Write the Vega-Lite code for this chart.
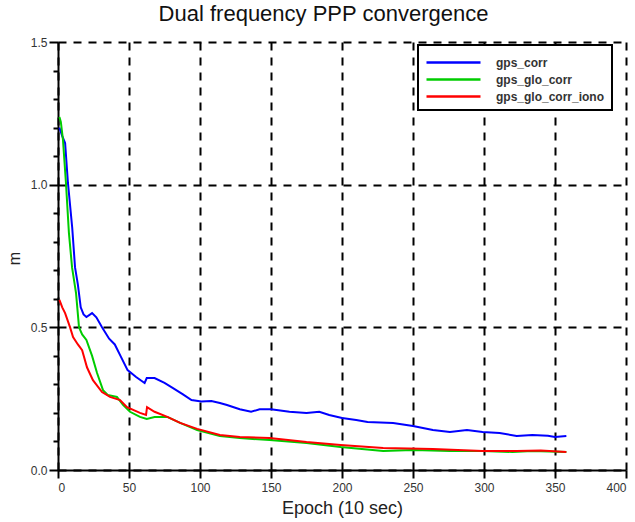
{
  "$schema": "https://vega.github.io/schema/vega-lite/v6.json",
  "width": 568,
  "height": 428,
  "autosize": "none",
  "padding": {"left": 58, "top": 42, "right": 9, "bottom": 52},
  "background": "white",
  "title": {"text": "Dual frequency PPP convergence", "fontSize": 22, "fontWeight": "normal", "color": "#111", "anchor": "middle", "frame": "bounds", "offset": 10, "dx": 7, "font": "Liberation Sans"},
  "data": {"values": [
    {"epoch": 1, "m": 1.20, "series": "gps_corr"},
    {"epoch": 3, "m": 1.17, "series": "gps_corr"},
    {"epoch": 5, "m": 1.146, "series": "gps_corr"},
    {"epoch": 7, "m": 1.006, "series": "gps_corr"},
    {"epoch": 10, "m": 0.85, "series": "gps_corr"},
    {"epoch": 12, "m": 0.71, "series": "gps_corr"},
    {"epoch": 14, "m": 0.65, "series": "gps_corr"},
    {"epoch": 16, "m": 0.57, "series": "gps_corr"},
    {"epoch": 18, "m": 0.545, "series": "gps_corr"},
    {"epoch": 20, "m": 0.536, "series": "gps_corr"},
    {"epoch": 24, "m": 0.55, "series": "gps_corr"},
    {"epoch": 27, "m": 0.535, "series": "gps_corr"},
    {"epoch": 31, "m": 0.50, "series": "gps_corr"},
    {"epoch": 36, "m": 0.46, "series": "gps_corr"},
    {"epoch": 40, "m": 0.44, "series": "gps_corr"},
    {"epoch": 44, "m": 0.40, "series": "gps_corr"},
    {"epoch": 49, "m": 0.35, "series": "gps_corr"},
    {"epoch": 55, "m": 0.326, "series": "gps_corr"},
    {"epoch": 61, "m": 0.305, "series": "gps_corr"},
    {"epoch": 62.5, "m": 0.322, "series": "gps_corr"},
    {"epoch": 68, "m": 0.322, "series": "gps_corr"},
    {"epoch": 75, "m": 0.305, "series": "gps_corr"},
    {"epoch": 81, "m": 0.287, "series": "gps_corr"},
    {"epoch": 88, "m": 0.265, "series": "gps_corr"},
    {"epoch": 94, "m": 0.245, "series": "gps_corr"},
    {"epoch": 101, "m": 0.24, "series": "gps_corr"},
    {"epoch": 108, "m": 0.242, "series": "gps_corr"},
    {"epoch": 114, "m": 0.235, "series": "gps_corr"},
    {"epoch": 119, "m": 0.228, "series": "gps_corr"},
    {"epoch": 128, "m": 0.213, "series": "gps_corr"},
    {"epoch": 136, "m": 0.204, "series": "gps_corr"},
    {"epoch": 142, "m": 0.213, "series": "gps_corr"},
    {"epoch": 150, "m": 0.213, "series": "gps_corr"},
    {"epoch": 163, "m": 0.204, "series": "gps_corr"},
    {"epoch": 175, "m": 0.20, "series": "gps_corr"},
    {"epoch": 184, "m": 0.204, "series": "gps_corr"},
    {"epoch": 191, "m": 0.193, "series": "gps_corr"},
    {"epoch": 200, "m": 0.182, "series": "gps_corr"},
    {"epoch": 210, "m": 0.175, "series": "gps_corr"},
    {"epoch": 218, "m": 0.168, "series": "gps_corr"},
    {"epoch": 236, "m": 0.165, "series": "gps_corr"},
    {"epoch": 250, "m": 0.154, "series": "gps_corr"},
    {"epoch": 257, "m": 0.147, "series": "gps_corr"},
    {"epoch": 264, "m": 0.14, "series": "gps_corr"},
    {"epoch": 276, "m": 0.133, "series": "gps_corr"},
    {"epoch": 288, "m": 0.14, "series": "gps_corr"},
    {"epoch": 299, "m": 0.133, "series": "gps_corr"},
    {"epoch": 311, "m": 0.13, "series": "gps_corr"},
    {"epoch": 323, "m": 0.119, "series": "gps_corr"},
    {"epoch": 334, "m": 0.123, "series": "gps_corr"},
    {"epoch": 345, "m": 0.12, "series": "gps_corr"},
    {"epoch": 350, "m": 0.116, "series": "gps_corr"},
    {"epoch": 358, "m": 0.119, "series": "gps_corr"},

    {"epoch": 1, "m": 1.237, "series": "gps_glo_corr"},
    {"epoch": 2, "m": 1.22, "series": "gps_glo_corr"},
    {"epoch": 3.5, "m": 1.157, "series": "gps_glo_corr"},
    {"epoch": 5.6, "m": 1.006, "series": "gps_glo_corr"},
    {"epoch": 7.7, "m": 0.83, "series": "gps_glo_corr"},
    {"epoch": 9.9, "m": 0.71, "series": "gps_glo_corr"},
    {"epoch": 12.7, "m": 0.62, "series": "gps_glo_corr"},
    {"epoch": 14.8, "m": 0.50, "series": "gps_glo_corr"},
    {"epoch": 17, "m": 0.475, "series": "gps_glo_corr"},
    {"epoch": 20, "m": 0.456, "series": "gps_glo_corr"},
    {"epoch": 24, "m": 0.40, "series": "gps_glo_corr"},
    {"epoch": 27.5, "m": 0.34, "series": "gps_glo_corr"},
    {"epoch": 31.7, "m": 0.28, "series": "gps_glo_corr"},
    {"epoch": 35, "m": 0.263, "series": "gps_glo_corr"},
    {"epoch": 41.5, "m": 0.256, "series": "gps_glo_corr"},
    {"epoch": 45.8, "m": 0.228, "series": "gps_glo_corr"},
    {"epoch": 50.7, "m": 0.204, "series": "gps_glo_corr"},
    {"epoch": 57.7, "m": 0.186, "series": "gps_glo_corr"},
    {"epoch": 62.5, "m": 0.179, "series": "gps_glo_corr"},
    {"epoch": 68, "m": 0.186, "series": "gps_glo_corr"},
    {"epoch": 77, "m": 0.186, "series": "gps_glo_corr"},
    {"epoch": 86, "m": 0.165, "series": "gps_glo_corr"},
    {"epoch": 98, "m": 0.14, "series": "gps_glo_corr"},
    {"epoch": 114, "m": 0.119, "series": "gps_glo_corr"},
    {"epoch": 128, "m": 0.112, "series": "gps_glo_corr"},
    {"epoch": 149, "m": 0.105, "series": "gps_glo_corr"},
    {"epoch": 175, "m": 0.095, "series": "gps_glo_corr"},
    {"epoch": 199, "m": 0.081, "series": "gps_glo_corr"},
    {"epoch": 229, "m": 0.067, "series": "gps_glo_corr"},
    {"epoch": 250, "m": 0.07, "series": "gps_glo_corr"},
    {"epoch": 276, "m": 0.067, "series": "gps_glo_corr"},
    {"epoch": 299, "m": 0.067, "series": "gps_glo_corr"},
    {"epoch": 320, "m": 0.063, "series": "gps_glo_corr"},
    {"epoch": 334, "m": 0.067, "series": "gps_glo_corr"},
    {"epoch": 358, "m": 0.063, "series": "gps_glo_corr"},

    {"epoch": 1, "m": 0.596, "series": "gps_glo_corr_iono"},
    {"epoch": 3, "m": 0.57, "series": "gps_glo_corr_iono"},
    {"epoch": 5, "m": 0.55, "series": "gps_glo_corr_iono"},
    {"epoch": 8.5, "m": 0.50, "series": "gps_glo_corr_iono"},
    {"epoch": 10.6, "m": 0.466, "series": "gps_glo_corr_iono"},
    {"epoch": 14, "m": 0.44, "series": "gps_glo_corr_iono"},
    {"epoch": 17, "m": 0.42, "series": "gps_glo_corr_iono"},
    {"epoch": 20.4, "m": 0.36, "series": "gps_glo_corr_iono"},
    {"epoch": 24.6, "m": 0.315, "series": "gps_glo_corr_iono"},
    {"epoch": 31, "m": 0.273, "series": "gps_glo_corr_iono"},
    {"epoch": 36.6, "m": 0.256, "series": "gps_glo_corr_iono"},
    {"epoch": 43.7, "m": 0.245, "series": "gps_glo_corr_iono"},
    {"epoch": 48.6, "m": 0.22, "series": "gps_glo_corr_iono"},
    {"epoch": 57.7, "m": 0.20, "series": "gps_glo_corr_iono"},
    {"epoch": 62, "m": 0.193, "series": "gps_glo_corr_iono"},
    {"epoch": 62.7, "m": 0.22, "series": "gps_glo_corr_iono"},
    {"epoch": 68, "m": 0.204, "series": "gps_glo_corr_iono"},
    {"epoch": 77, "m": 0.186, "series": "gps_glo_corr_iono"},
    {"epoch": 86, "m": 0.165, "series": "gps_glo_corr_iono"},
    {"epoch": 98, "m": 0.144, "series": "gps_glo_corr_iono"},
    {"epoch": 114, "m": 0.123, "series": "gps_glo_corr_iono"},
    {"epoch": 128, "m": 0.116, "series": "gps_glo_corr_iono"},
    {"epoch": 149, "m": 0.112, "series": "gps_glo_corr_iono"},
    {"epoch": 175, "m": 0.098, "series": "gps_glo_corr_iono"},
    {"epoch": 199, "m": 0.088, "series": "gps_glo_corr_iono"},
    {"epoch": 229, "m": 0.077, "series": "gps_glo_corr_iono"},
    {"epoch": 264, "m": 0.074, "series": "gps_glo_corr_iono"},
    {"epoch": 299, "m": 0.067, "series": "gps_glo_corr_iono"},
    {"epoch": 323, "m": 0.067, "series": "gps_glo_corr_iono"},
    {"epoch": 340, "m": 0.068, "series": "gps_glo_corr_iono"},
    {"epoch": 358, "m": 0.063, "series": "gps_glo_corr_iono"}
  ]},
  "mark": {"type": "line", "strokeWidth": 2},
  "encoding": {
    "x": {
      "field": "epoch", "type": "quantitative",
      "scale": {"domain": [0, 400], "nice": false, "zero": false},
      "axis": {
        "title": "Epoch (10 sec)",
        "values": [0, 50, 100, 150, 200, 250, 300, 350, 400],
        "tickSize": 8,
        "labelPadding": 4,
        "titleFontSize": 18,
        "titlePadding": 6
      }
    },
    "y": {
      "field": "m", "type": "quantitative",
      "scale": {"domain": [0, 1.5], "nice": false},
      "axis": {
        "title": "m",
        "titleX": -44,
        "titleY": 216,
        "titleAlign": "center",
        "titleBaseline": "middle",
        "titleFontSize": 16,
        "values": [0, 0.1, 0.2, 0.3, 0.4, 0.5, 0.6, 0.7, 0.8, 0.9, 1.0, 1.1, 1.2, 1.3, 1.4, 1.5],
        "labelExpr": "round(datum.value*10) % 5 == 0 ? format(datum.value, '.1f') : ''",
        "tickSize": {"condition": {"test": "round(datum.value*10) % 5 == 0", "value": 9}, "value": 5},
        "gridOpacity": {"condition": {"test": "round(datum.value*10) % 5 == 0", "value": 1}, "value": 0},
        "labelPadding": 2
      }
    },
    "color": {
      "field": "series", "type": "nominal",
      "scale": {"domain": ["gps_corr", "gps_glo_corr", "gps_glo_corr_iono"], "range": ["#0000ff", "#00cc00", "#ff0000"]},
      "legend": {
        "title": null,
        "orient": "none",
        "legendX": 360,
        "legendY": 3,
        "strokeColor": "#000",
        "fillColor": "white",
        "padding": 7,
        "symbolType": "M-3,0L3,0",
        "symbolSize": 324,
        "symbolOffset": 18,
        "symbolStrokeWidth": 2.5,
        "labelFontSize": 12,
        "labelFontWeight": "bold",
        "labelColor": "#333",
        "labelOffset": 32,
        "rowPadding": 0
      }
    }
  },
  "config": {
    "font": "Liberation Sans",
    "view": {"stroke": null},
    "axis": {
      "labelFont": "Liberation Sans",
      "titleFont": "Liberation Sans",
      "labelFontSize": 12,
      "labelColor": "#333",
      "titleColor": "#222",
      "titleFontWeight": "normal",
      "grid": true,
      "gridColor": "#000",
      "gridDash": [8, 7],
      "gridWidth": 2,
      "domainColor": "#000",
      "domainWidth": 2,
      "tickColor": "#000",
      "tickWidth": 2
    },
    "legend": {"labelFont": "Liberation Sans", "strokeWidth": 2}
  }
}
